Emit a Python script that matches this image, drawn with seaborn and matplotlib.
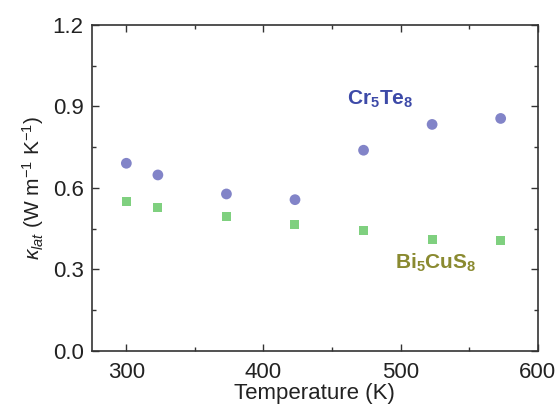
import matplotlib
matplotlib.use("Agg")
import matplotlib.pyplot as plt
import seaborn as sns
import pandas as pd
from matplotlib.ticker import MultipleLocator, FormatStrFormatter

# Lattice thermal conductivity vs temperature
temperature = [300, 323, 373, 423, 473, 523, 573]
kappa_cr5te8 = [0.691, 0.648, 0.578, 0.557, 0.739, 0.834, 0.856]
kappa_bi5cus8 = [0.550, 0.530, 0.496, 0.466, 0.444, 0.409, 0.406]
series_names = ["Cr5Te8", "Bi5CuS8"]

df = pd.DataFrame({
    "T": temperature * 2,
    "kappa": kappa_cr5te8 + kappa_bi5cus8,
    "sample": [series_names[0]] * len(temperature) + [series_names[1]] * len(temperature),
})

sns.set_theme(style="ticks")
plt.rcParams["font.family"] = ["Liberation Sans", "DejaVu Sans"]
plt.rcParams["mathtext.fontset"] = "custom"
plt.rcParams["mathtext.rm"] = "Liberation Sans"
plt.rcParams["mathtext.it"] = "Liberation Sans:italic"
plt.rcParams["mathtext.bf"] = "Liberation Sans:bold"
plt.rcParams["text.color"] = "#222222"
plt.rcParams["axes.labelcolor"] = "#222222"
plt.rcParams["xtick.labelcolor"] = "#222222"
plt.rcParams["ytick.labelcolor"] = "#222222"

fig = plt.figure(figsize=(5.58, 4.07), dpi=100)
ax = fig.add_axes([0.165, 0.1376, 0.7986, 0.801])

sns.scatterplot(
    data=df[df["sample"] == series_names[0]], x="T", y="kappa",
    color="#8284c8", marker="o", s=60, edgecolor="none", ax=ax, legend=False,
)
sns.scatterplot(
    data=df[df["sample"] == series_names[1]], x="T", y="kappa",
    color="#7fd07f", marker="s", s=42, edgecolor="none", ax=ax, legend=False,
)

ax.set_xlim(275, 600)
ax.set_ylim(0, 1.2)
ax.xaxis.set_major_locator(MultipleLocator(100))
ax.xaxis.set_minor_locator(MultipleLocator(50))
ax.yaxis.set_major_locator(MultipleLocator(0.3))
ax.yaxis.set_minor_locator(MultipleLocator(0.15))
ax.yaxis.set_major_formatter(FormatStrFormatter("%.1f"))

ax.tick_params(which="both", direction="in", top=True, right=True, width=1.0, color="#333333")
ax.tick_params(which="major", length=5, labelsize=16)
ax.tick_params(axis="x", which="major", pad=8)
ax.tick_params(axis="y", which="major", pad=6)
ax.tick_params(which="minor", length=3)
for sp in ax.spines.values():
    sp.set_linewidth(1.2)
    sp.set_color("#333333")

ax.set_xlabel("Temperature (K)", fontsize=16, labelpad=0)
ax.set_ylabel(r"$\kappa_{lat}$ (W m$^{-1}$ K$^{-1}$)", fontsize=15, labelpad=5)

ax.text(461, 0.925, r"Cr$_\mathbf{5}$Te$_\mathbf{8}$", color="#3d4aa8", fontsize=15,
        fontweight="bold", va="center", ha="left")
ax.text(496, 0.325, r"Bi$_\mathbf{5}$CuS$_\mathbf{8}$", color="#8a8a30", fontsize=15,
        fontweight="bold", va="center", ha="left")

fig.savefig("out.png", dpi=100)
